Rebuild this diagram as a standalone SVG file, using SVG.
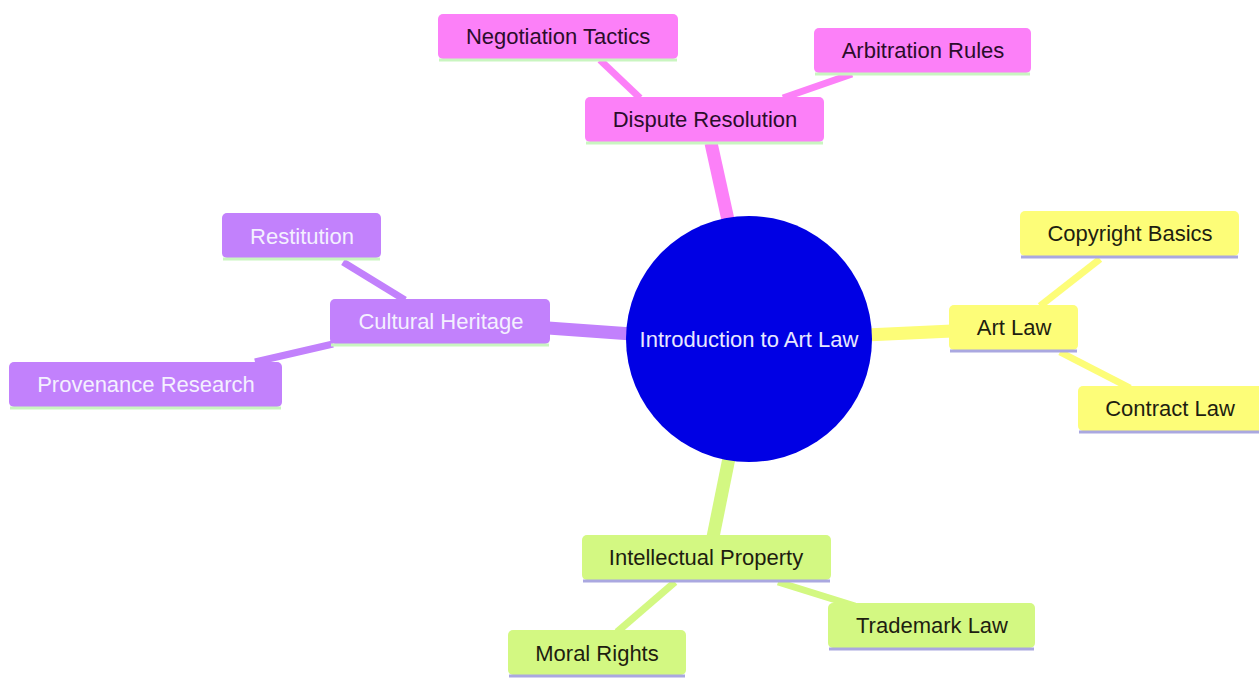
<svg xmlns="http://www.w3.org/2000/svg" width="1259" height="678" viewBox="0 0 1259 678">
<style>
text{font-family:"Liberation Sans",Arial,sans-serif;font-size:22px;text-anchor:middle;dominant-baseline:central}
.e{fill:none;stroke-linecap:butt}
.e1{stroke-width:13}
.e2{stroke-width:7}
.pk{stroke:#fc80f8}.pkf{fill:#fc80f8}
.pu{stroke:#c281fc}.puf{fill:#c281fc}
.ye{stroke:#fdfd78}.yef{fill:#fdfd78}
.gr{stroke:#d3f882}.grf{fill:#d3f882}
.lg{stroke:#c9f5c0;stroke-width:3}
.lv{stroke:#aaa8e0;stroke-width:3}
.td{fill:#2b0d2b}
.tw{fill:#f4f0ff}
.tk{fill:#1e1e10}
</style>
<rect width="1259" height="678" fill="#ffffff"/>
<g id="connectors">
<line class="e e1 pk" x1="711" y1="143" x2="728" y2="220"/>
<line class="e e1 pu" x1="548" y1="328" x2="632" y2="334"/>
<line class="e e1 ye" x1="866" y1="335" x2="952" y2="331"/>
<line class="e e1 gr" x1="729" y1="458" x2="713" y2="537"/>
<line class="e e2 pk" x1="600" y1="60" x2="640" y2="98"/>
<line class="e e2 pk" x1="852" y1="74" x2="783" y2="98"/>
<line class="e e2 pu" x1="343" y1="262" x2="405" y2="300"/>
<line class="e e2 pu" x1="255" y1="362" x2="333" y2="344"/>
<line class="e e2 ye" x1="1100" y1="259" x2="1040" y2="306"/>
<line class="e e2 ye" x1="1060" y1="352" x2="1130" y2="388"/>
<line class="e e2 gr" x1="675" y1="582" x2="617" y2="632"/>
<line class="e e2 gr" x1="778" y1="582" x2="855" y2="606"/>
</g>
<g id="root">
<circle cx="749" cy="339" r="123" fill="#0000e4"/>
<text x="749" y="339" fill="#e8e8ff">Introduction to Art Law</text>
</g>
<g id="dispute">
<rect class="pkf" x="585" y="97" width="239" height="45" rx="5"/>
<line class="lg" x1="586" y1="143" x2="823" y2="143"/>
<text class="td" x="705" y="119">Dispute Resolution</text>
</g>
<g id="negotiation">
<rect class="pkf" x="438" y="14" width="240" height="45" rx="5"/>
<line class="lg" x1="439" y1="60" x2="677" y2="60"/>
<text class="td" x="558" y="36">Negotiation Tactics</text>
</g>
<g id="arbitration">
<rect class="pkf" x="814" y="28" width="217" height="45" rx="5"/>
<line class="lg" x1="815" y1="74" x2="1030" y2="74"/>
<text class="td" x="923" y="50">Arbitration Rules</text>
</g>
<g id="cultural">
<rect class="puf" x="330" y="299" width="220" height="45" rx="5"/>
<line class="lg" x1="331" y1="345" x2="549" y2="345"/>
<text class="tw" x="441" y="321">Cultural Heritage</text>
</g>
<g id="restitution">
<rect class="puf" x="222" y="213" width="159" height="45" rx="5"/>
<line class="lg" x1="223" y1="259" x2="380" y2="259"/>
<text class="tw" x="302" y="236">Restitution</text>
</g>
<g id="provenance">
<rect class="puf" x="9" y="362" width="273" height="45" rx="5"/>
<line class="lg" x1="10" y1="408" x2="281" y2="408"/>
<text class="tw" x="146" y="384">Provenance Research</text>
</g>
<g id="artlaw">
<rect class="yef" x="949" y="305" width="129" height="45" rx="5"/>
<line class="lv" x1="950" y1="351" x2="1077" y2="351"/>
<text class="tk" x="1014" y="327">Art Law</text>
</g>
<g id="copyright">
<rect class="yef" x="1020" y="211" width="219" height="45" rx="5"/>
<line class="lv" x1="1021" y1="257" x2="1238" y2="257"/>
<text class="tk" x="1130" y="233">Copyright Basics</text>
</g>
<g id="contract">
<rect class="yef" x="1078" y="386" width="186" height="45" rx="5"/>
<line class="lv" x1="1079" y1="432" x2="1259" y2="432"/>
<text class="tk" x="1170" y="408">Contract Law</text>
</g>
<g id="ip">
<rect class="grf" x="582" y="535" width="249" height="45" rx="5"/>
<line class="lv" x1="583" y1="581" x2="830" y2="581"/>
<text class="tk" x="706" y="557">Intellectual Property</text>
</g>
<g id="moral">
<rect class="grf" x="508" y="630" width="178" height="45" rx="5"/>
<line class="lv" x1="509" y1="676" x2="685" y2="676"/>
<text class="tk" x="597" y="653">Moral Rights</text>
</g>
<g id="trademark">
<rect class="grf" x="828" y="603" width="207" height="45" rx="5"/>
<line class="lv" x1="829" y1="649" x2="1034" y2="649"/>
<text class="tk" x="932" y="625">Trademark Law</text>
</g>
</svg>
